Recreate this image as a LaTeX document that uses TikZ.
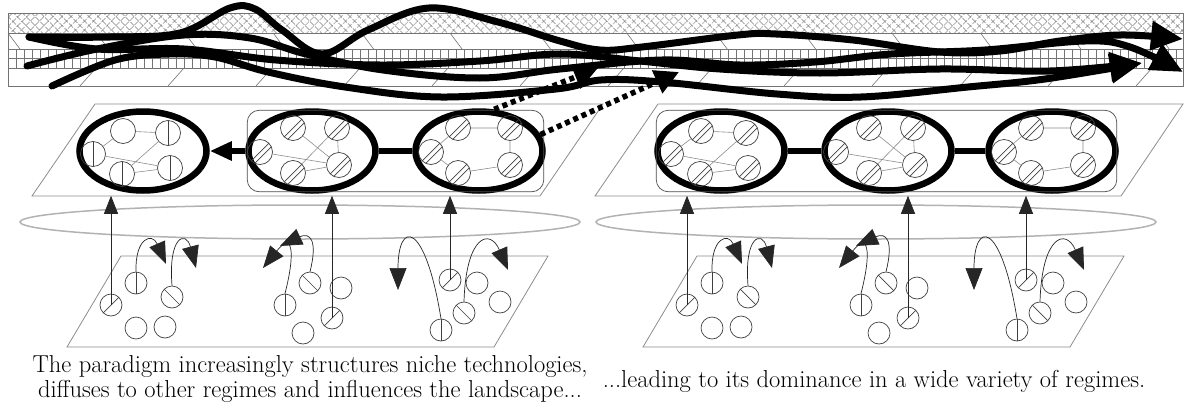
\documentclass[tikz,border=0pt]{standalone}
\usetikzlibrary{arrows.meta,shapes.geometric,patterns.meta,fit}
\begin{document}
\begin{tikzpicture}[x=1pt, y=-1pt,
    lay/.style={draw=black!45, line width=0.8pt},
    band/.style={draw=black!55, line width=0.6pt},
    reg/.style={ellipse, draw, line width=6.5pt, minimum width=127pt, minimum height=79pt},
    grp/.style={draw=black!70, line width=0.7pt, rounded corners=12pt, inner sep=-2pt},
    link/.style={line width=6pt},
    nd/.style={circle, draw=black!75, line width=0.7pt, minimum size=25pt, inner sep=0pt},
    sm/.style={minimum size=22pt},
    vl/.style={nd, path picture={\draw[black!75] (path picture bounding box.north) -- (path picture bounding box.south);}},
    sl/.style={nd, path picture={\draw[black!75] (path picture bounding box.south west) -- (path picture bounding box.north east);}},
    bs/.style={nd, path picture={\draw[black!75] (path picture bounding box.north west) -- (path picture bounding box.south east);}},
    hh/.style={nd, path picture={\draw[black!75] (path picture bounding box.south west) -- (path picture bounding box.north east)
        ([xshift=6pt]path picture bounding box.south west) -- ([yshift=-6pt]path picture bounding box.north east);}},
    tie/.style={draw=black!45, line width=0.6pt},
    rise/.style={draw=black!85, line width=0.7pt, -{Triangle[length=18pt,width=14pt]}, shorten >=2pt},
    curl/.style={draw=black!85, line width=0.7pt, -{Triangle[length=22pt,width=17pt]}},
    dotarr/.style={line width=5.5pt, dash pattern=on 5pt off 4pt, -{Triangle[length=24pt,width=24pt]}},
    flow/.style={line width=7pt, line cap=round, -{Triangle[length=32pt,width=28pt]}},
    txt/.style={font=\fontsize{24.5}{25}\selectfont, align=center, inner sep=0pt}]
\useasboundingbox (0,0) rectangle (1185,415);

% landscape band
\fill[pattern={Lines[angle=45,distance=6.4pt,line width=0.6pt]}, pattern color=black!70] (8,13) rectangle (1183,33);
\fill[pattern={Lines[angle=-45,distance=6.4pt,line width=0.6pt]}, pattern color=black!70] (8,13) rectangle (1183,33);
\foreach \x in {8,16,...,1176} \draw[band] (\x,49) -- (\x,68);
\foreach \x in {8,96.4,...,1160} \draw[band] (\x,33) -- (\x+12,49);
\foreach \x in {80,168,...,1140} \draw[band] (\x,86) -- (\x+16,68);
\draw[band] (8,13) rectangle (1183,86) (8,33) -- (1183,33) (8,49) -- (1183,49) (8,58) -- (1183,58) (8,68) -- (1183,68);

% regime planes
\draw[lay] (95,104) -- (603,104) -- (540,196) -- (32,196) -- cycle;
\draw[lay] (658,104) -- (1183,104) -- (1121,196) -- (595,196) -- cycle;

\node[reg] (L1) at (143,151) {}; \node[reg] (L2) at (312,151) {}; \node[reg] (L3) at (479,151) {};
\node[reg] (R1) at (721,151) {}; \node[reg] (R2) at (888,151) {}; \node[reg] (R3) at (1052,151) {};

\foreach \n/\c/\f/\g in {L1/143/nd/vl, R1/721/hh/hh} {
  \begin{scope}[shift={(\c,151)}]
    \node[\f] (\n a) at (-20,-20) {}; \node[\g] (\n b) at (25,-18) {}; \node[\g] (\n c) at (-50,3) {};
    \node[\g] (\n d) at (-21,23) {}; \node[\g] (\n e) at (27,17) {};
  \end{scope}
  \draw[tie] (\n a) -- (\n b) (\n a) -- (\n c) (\n c) -- (\n e) (\n b) -- (\n d) (\n d) -- (\n e);
}
\foreach \n/\c in {L2/312, R2/888} {
  \begin{scope}[shift={(\c,151)}]
    \node[hh] (\n a) at (-19,-23) {}; \node[hh] (\n b) at (25,-23) {}; \node[hh] (\n c) at (-52,1) {};
    \node[hh] (\n d) at (-19,22) {}; \node[hh] (\n e) at (27,14) {};
  \end{scope}
  \draw[tie] (\n a) -- (\n e) (\n b) -- (\n d) (\n c) -- (\n e) (\n b) -- (\n e) (\n d) -- (\n e);
}
\foreach \n/\c in {L3/479, R3/1052} {
  \begin{scope}[shift={(\c,151)}]
    \node[hh] (\n a) at (-21,-23) {}; \node[hh] (\n b) at (31,-23) {}; \node[hh] (\n c) at (-48,1) {};
    \node[hh] (\n d) at (-21,22) {}; \node[hh] (\n e) at (31,14) {};
  \end{scope}
  \draw[tie] (\n a) -- (\n b) (\n a) -- (\n c) (\n c) -- (\n d) (\n d) -- (\n e) (\n b) -- (\n e);
}

\node[grp, fit=(L2)(L3)] (G1) {};
\node[grp, fit=(R1)(R3)] (G2) {};
\draw[link] (L3) -- (L2);
\draw[link, -{Triangle[length=22pt,width=18pt]}] (L2) -- (L1);
\draw[link] (R1) -- (R2) (R2) -- (R3);

% niche level, twice
\foreach \s/\p/\A/\B/\C in {0/a/L1/L2/L3, 576/b/R1/R2/R3} {
  \begin{scope}[shift={(\s,0)}]
    \draw[lay] (121,256) -- (548,256) -- (494,347) -- (67,347) -- cycle;
    \draw[draw=black!30, line width=1.5pt] (300,222) ellipse [x radius=280, y radius=17];
    \node[sl,sm] (\p1) at (111,305) {}; \node[vl,sm] (\p2) at (136,283) {}; \node[bs,sm] (\p3) at (172,297) {};
    \node[nd,sm] (\p4) at (136,328) {}; \node[nd,sm] (\p5) at (165,327) {};
    \node[vl,sm] (\p6) at (285,305) {}; \node[bs,sm] (\p7) at (310,283) {}; \node[nd,sm] (\p8) at (341,288) {};
    \node[sl,sm] (\p9) at (332,318) {}; \node[nd,sm] (\p10) at (303,333) {};
    \node[sl,sm] (\p11) at (450,280) {}; \node[nd,sm] (\p12) at (477,283) {}; \node[nd,sm] (\p13) at (500,302) {};
    \node[bs,sm] (\p14) at (464,313) {}; \node[vl,sm] (\p15) at (441,330) {};
    \draw[rise] (\p1.center) -- (\p1 |- \A.south);
    \draw[rise] (\p9.center) -- (\p9 |- \B.south);
    \draw[rise] (\p11.center) -- (\p11 |- \C.south);
    \draw[curl] (\p2.north) .. controls (135,238) and (152,232) .. (166,264);
    \draw[curl] (\p3.north) .. controls (168,236) and (186,230) .. (196,268);
    \draw[curl] (\p6.north) .. controls (296,250) and (292,232) .. (263,268);
    \draw[curl] (\p7.north) .. controls (318,240) and (310,232) .. (280,246);
    \draw[curl] (\p15.north) .. controls (425,220) and (398,220) .. (398,290);
    \draw[curl] (\p14.north) .. controls (466,235) and (490,228) .. (508,270);
  \end{scope}
}

% diffusion into the landscape
\coordinate (d1) at (598,68); \coordinate (d2) at (679,72);
\draw[dotarr] (L3.70) -- (d1);
\draw[dotarr] (L3.15) -- (d2);

% trajectories
\draw[flow] plot[smooth, tension=0.6] coordinates {(29,37) (110,37) (180,33) (230,8) (255,9) (282,30) (322,54) (368,30) (429,8) (498,22) (560,41) (600,50) (642,47) (738,35) (776,34) (853,40) (940,52) (1000,51) (1060,41) (1121,35) (1183,39)};
\draw[flow] plot[smooth, tension=0.6] coordinates {(27,66) (97,49) (184,35) (250,38) (306,54) (383,70) (480,78) (560,69) (662,60) (740,65) (815,62) (891,54) (985,50) (1085,41) (1130,47) (1183,72)};
\draw[flow] plot[smooth, tension=0.6] coordinates {(52,86) (115,60) (169,54) (215,57) (268,72) (345,87) (441,97) (556,89) (601,80) (662,82) (777,94) (861,97) (968,87) (1045,79) (1142,63)};
\draw[flow] plot[smooth, tension=0.6] coordinates {(29,37) (97,49) (184,49) (276,60) (380,65) (480,61) (560,54) (640,61) (720,69) (820,73) (940,69) (1050,71) (1142,63)};

\node[txt] (cap1) at (310,379) {The paradigm increasingly structures niche technologies,\\ diffuses to other regimes and influences the landscape...};
\node[txt] (cap2) at (874,381) {...leading to its dominance in a wide variety of regimes.};
\end{tikzpicture}
\end{document}
